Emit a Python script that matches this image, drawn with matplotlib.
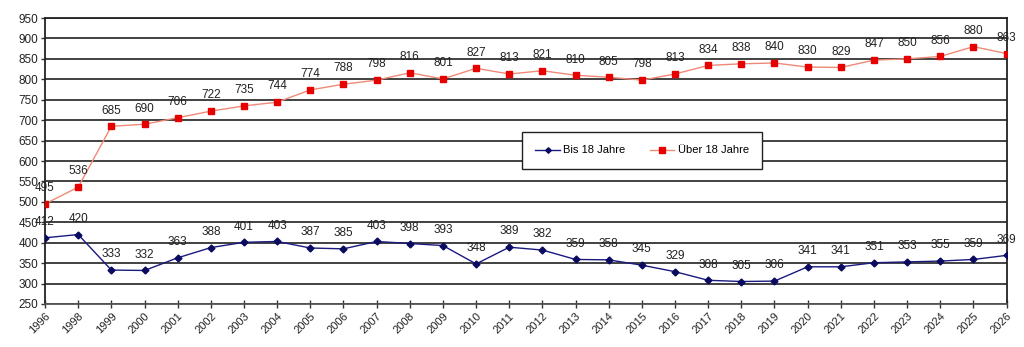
import matplotlib.pyplot as plt

plt.rcParams['font.family'] = ['Liberation Sans', 'DejaVu Sans']

years = ['1996', '1998'] + [str(y) for y in range(1999, 2027)]
bis_18 = [412, 420, 333, 332, 363, 388, 401, 403, 387, 385, 403, 398, 393, 348, 389,
          382, 359, 358, 345, 329, 308, 305, 306, 341, 341, 351, 353, 355, 359, 369]
ueber_18 = [495, 536, 685, 690, 706, 722, 735, 744, 774, 788, 798, 816, 801, 827, 813,
            821, 810, 805, 798, 813, 834, 838, 840, 830, 829, 847, 850, 856, 880, 863]
y_ticks = list(range(250, 951, 50))

fig = plt.figure(figsize=(10.24, 3.47), dpi=100)
ax = fig.add_axes([0.044, 0.124, 0.939, 0.824])

x = list(range(len(years)))
ax.plot(x, bis_18, color='#1a1a80', lw=1.0, marker='D', ms=3.5,
        mfc='#0a0a60', mec='#0a0a60', label='Bis 18 Jahre', zorder=3)
ax.plot(x, ueber_18, color='#f08a78', lw=1.0, marker='s', ms=5,
        mfc='#e60000', mec='#e60000', label='Über 18 Jahre', zorder=3)

for series in (bis_18, ueber_18):
    for xi, v in zip(x, series):
        ax.annotate(str(v), (xi, v), xytext=(0, 7), textcoords='offset points',
                    ha='center', va='bottom', fontsize=8.5, color='#222222', zorder=4)

ax.set_xlim(0, len(years) - 1)
ax.set_ylim(250, 950)
ax.set_yticks(y_ticks)
ax.set_xticks(x)
ax.set_xticklabels(years, rotation=45, ha='right', rotation_mode='anchor')
ax.tick_params(axis='x', direction='inout', length=6, width=1, labelsize=8,
               colors='#333333', pad=2)
ax.tick_params(axis='y', direction='out', length=3, width=1, labelsize=8.5,
               colors='#333333', pad=2)
for lbl in ax.get_xticklabels() + ax.get_yticklabels():
    lbl.set_color('#222222')

ax.yaxis.grid(True, color='#333333', lw=1.3)
ax.set_axisbelow(True)
for side in ['left', 'right', 'top']:
    ax.spines[side].set_color('#222222')
    ax.spines[side].set_linewidth(1.3)
ax.spines['bottom'].set_color('#555555')
ax.spines['bottom'].set_linewidth(1.3)

leg = ax.legend(loc='center', bbox_to_anchor=(0.621, 0.537), ncol=2,
                fontsize=8, frameon=True, fancybox=False, shadow=False,
                borderpad=1.2, handlelength=2.2, columnspacing=2.2,
                handletextpad=0.3, markerscale=0.8)
leg.get_frame().set_edgecolor('#222222')
leg.get_frame().set_linewidth(1.0)
leg.get_frame().set_alpha(1)

fig.savefig('out.png', dpi=100, facecolor='white')
